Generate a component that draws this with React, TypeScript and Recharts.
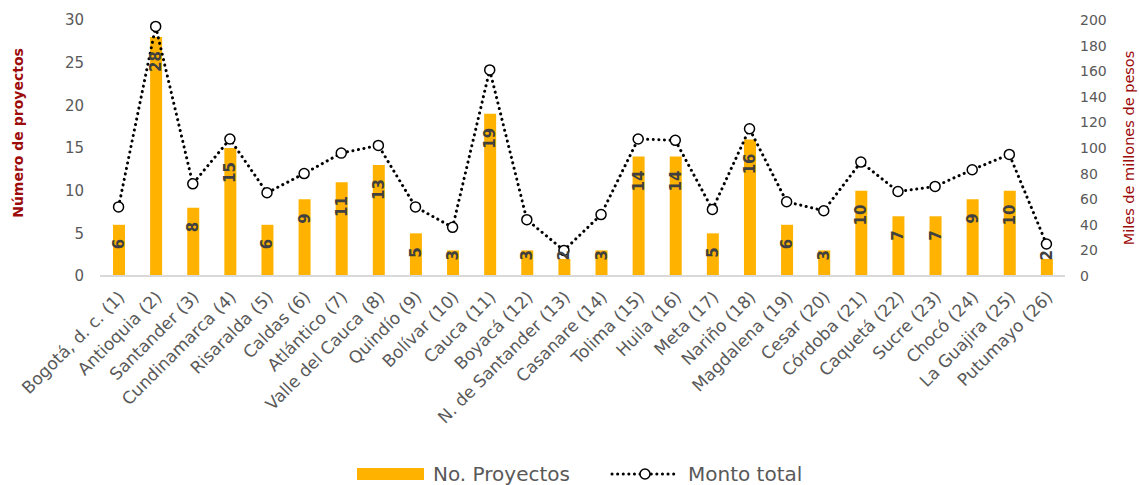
import { ComposedChart, Bar, Line, XAxis, YAxis, LabelList, Label } from "recharts";

const departamentos = [
  "Bogotá, d. c. (1)",
  "Antioquia (2)",
  "Santander (3)",
  "Cundinamarca (4)",
  "Risaralda (5)",
  "Caldas (6)",
  "Atlántico (7)",
  "Valle del Cauca (8)",
  "Quindío (9)",
  "Bolívar (10)",
  "Cauca (11)",
  "Boyacá (12)",
  "N. de Santander (13)",
  "Casanare (14)",
  "Tolima (15)",
  "Huila (16)",
  "Meta (17)",
  "Nariño (18)",
  "Magdalena (19)",
  "Cesar (20)",
  "Córdoba (21)",
  "Caquetá (22)",
  "Sucre (23)",
  "Chocó (24)",
  "La Guajira (25)",
  "Putumayo (26)",
];

const proyectos = [6, 28, 8, 15, 6, 9, 11, 13, 5, 3, 19, 3, 2, 3, 14, 14, 5, 16, 6, 3, 10, 7, 7, 9, 10, 2];

const montoTotal = [
  54, 195, 72, 107, 65, 80, 96, 102, 54, 38, 161, 44, 20, 48, 107, 106, 52, 115, 58, 51, 89, 66, 70, 83, 95, 25,
];

const ticksProyectos = [0, 5, 10, 15, 20, 25, 30];
const ticksMonto = [0, 20, 40, 60, 80, 100, 120, 140, 160, 180, 200];

const data = departamentos.map((name, i) => ({
  name,
  proyectos: proyectos[i],
  monto: montoTotal[i],
}));

const FONT = "'DejaVu Sans', sans-serif";
const GRAY = "#595959";
const RED = "#9C0A0A";
const ORANGE = "#FFB300";

const CategoryTick = (props: any) => {
  const { x, y, payload } = props;
  return (
    <g transform={`translate(${x + 3},${y + 10})`}>
      <text
        x={0}
        y={0}
        dy="0.35em"
        textAnchor="end"
        transform="rotate(-45)"
        fill={GRAY}
        fontSize={17}
        fontFamily={FONT}
      >
        {payload.value}
      </text>
    </g>
  );
};

const BarValue = (props: any) => {
  const { x, y, width, height, value } = props;
  const cx = x + width / 2;
  const bottom = y + height;
  const anchor = Math.min(y + 14, bottom - 26);
  return (
    <text
      x={cx}
      y={anchor}
      transform={`rotate(-90, ${cx}, ${anchor})`}
      textAnchor="end"
      dominantBaseline="central"
      fill="#404040"
      fontSize={15}
      fontWeight="bold"
      fontFamily={FONT}
    >
      {value}
    </text>
  );
};

const AxisTitle = (props: any) => {
  const { viewBox, value, cx, bold, size } = props;
  const cy = viewBox.y + viewBox.height / 2 + (props.dy || 0);
  return (
    <text
      x={cx}
      y={cy}
      transform={`rotate(-90, ${cx}, ${cy})`}
      textAnchor="middle"
      dominantBaseline="central"
      fill={RED}
      fontSize={size}
      fontWeight={bold ? "bold" : "normal"}
      fontFamily={FONT}
    >
      {value}
    </text>
  );
};

export default function App() {
  return (
    <div style={{ position: "absolute", left: 0, top: 0, width: 1139, height: 485, background: "#fff" }}>
      <ComposedChart
        width={1139}
        height={485}
        data={data}
        margin={{ top: 20, right: 0, bottom: 0, left: 0 }}
        barCategoryGap={0}
      >
        <XAxis
          dataKey="name"
          xAxisId="x"
          interval={0}
          height={209}
          tick={<CategoryTick />}
          tickLine={false}
          axisLine={{ stroke: "#D9D9D9", strokeWidth: 2 }}
        />
        <YAxis
          yAxisId="left"
          orientation="left"
          width={100}
          domain={[0, 30]}
          ticks={ticksProyectos}
          tickLine={false}
          axisLine={false}
          tickSize={0}
          tickMargin={16}
          tick={{ fill: GRAY, fontSize: 15, fontFamily: FONT }}
        >
          <Label
            content={(p: any) => (
              <AxisTitle {...p} value="Número de proyectos" cx={18} bold size={14} dy={-15} />
            )}
          />
        </YAxis>
        <YAxis
          yAxisId="right"
          orientation="right"
          width={74}
          domain={[0, 200]}
          ticks={ticksMonto}
          tickLine={false}
          axisLine={false}
          tickSize={0}
          tickMargin={15}
          tick={{ fill: GRAY, fontSize: 14, fontFamily: FONT, textAnchor: "start" }}
        >
          <Label
            content={(p: any) => (
              <AxisTitle {...p} value="Miles de millones de pesos" cx={1129} size={14.5} dy={0} />
            )}
          />
        </YAxis>
        <Bar
          dataKey="proyectos"
          xAxisId="x"
          yAxisId="left"
          fill={ORANGE}
          barSize={12}
          isAnimationActive={false}
        >
          <LabelList dataKey="proyectos" content={<BarValue />} />
        </Bar>
        <Line
          dataKey="monto"
          xAxisId="x"
          yAxisId="right"
          type="linear"
          stroke="#000"
          strokeWidth={3}
          strokeDasharray="0.1 5.5"
          strokeLinecap="round"
          dot={{ r: 5, fill: "#fff", stroke: "#000", strokeWidth: 1.5, strokeDasharray: "0" }}
          isAnimationActive={false}
        />
      </ComposedChart>
      <svg
        width={1139}
        height={40}
        style={{ position: "absolute", left: 0, top: 455 }}
      >
        <rect x={357} y={13} width={67} height={12} fill={ORANGE} />
        <text x={433} y={19} dominantBaseline="central" fill={GRAY} fontSize={20} fontFamily={FONT}>
          No. Proyectos
        </text>
        <line
          x1={612}
          y1={19}
          x2={677}
          y2={19}
          stroke="#000"
          strokeWidth={3}
          strokeDasharray="0.1 5.5"
          strokeLinecap="round"
        />
        <circle cx={645} cy={19} r={5} fill="#fff" stroke="#000" strokeWidth={1.5} />
        <text x={688} y={19} dominantBaseline="central" fill={GRAY} fontSize={20} fontFamily={FONT}>
          Monto total
        </text>
      </svg>
    </div>
  );
}
